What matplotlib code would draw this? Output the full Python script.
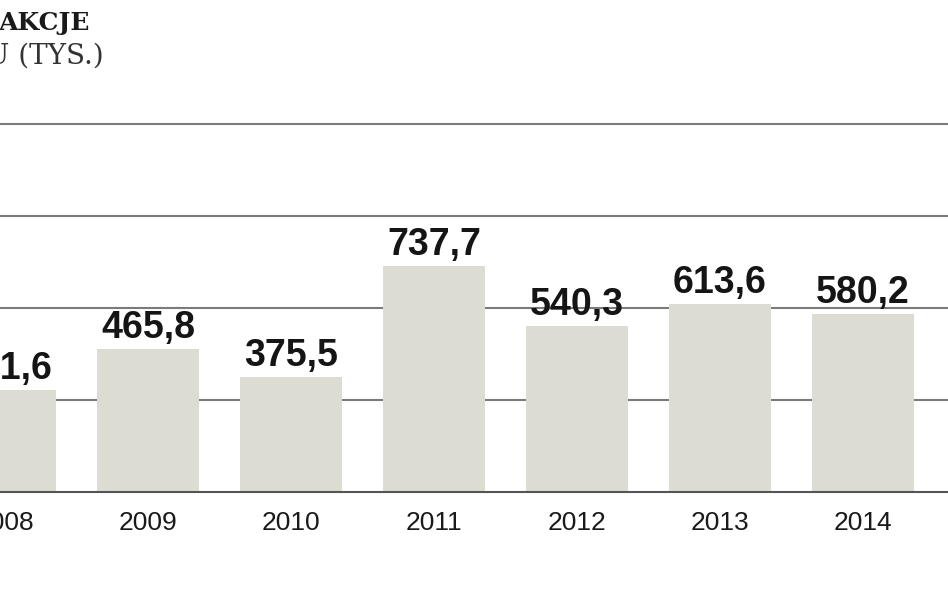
import matplotlib.pyplot as plt
import numpy as np

# number of transactions per year (thousands)
years = ['2008', '2009', '2010', '2011', '2012', '2013', '2014']
values = [331.6, 465.8, 375.5, 737.7, 540.3, 613.6, 580.2]
labels = ['331,6', '465,8', '375,5', '737,7', '540,3', '613,6', '580,2']
grid_ticks = [0, 300, 600, 900, 1200]

W, H = 948, 593
fig = plt.figure(figsize=(W / 100, H / 100), dpi=100)

# axes placed in pixels: baseline at y=492, top gridline at y=124 (from top)
ax_bot, ax_top = H - 502, H - 113
ax = fig.add_axes([0, ax_bot / H, 1, (ax_top - ax_bot) / H])
upp = 1200 / (492 - 124)  # units per pixel
ax.set_ylim(-10 * upp, 1200 + 11 * upp)
# first bar centred at x=5px, spacing 143px
ax.set_xlim(-5 / 143, (W - 5) / 143)

x = np.arange(len(years))
ax.bar(x, values, width=102 / 143, color='#dcdcd2', zorder=2)

for t in grid_ticks[1:]:
    ax.axhline(t, color='#7b7b7b', lw=1.5, zorder=1)
ax.axhline(0, color='#555555', lw=1.5, zorder=3)

for xi, v, lab in zip(x, values, labels):
    ax.annotate(lab, (xi, v), xytext=(0, 8), textcoords='offset points',
                ha='center', va='baseline', fontsize=27, fontweight='bold',
                family='Liberation Sans', color='#151515')
    ax.annotate(years[xi], (xi, 0), xytext=(0, -27), textcoords='offset points',
                ha='center', va='baseline', fontsize=19,
                family='Liberation Sans', color='#1a1a1a')

for s in ax.spines.values():
    s.set_visible(False)
ax.set_xticks([])
ax.set_yticks([])

# title (cropped at left edge in the reference)
fig.text(89 / W, 1 - 30 / H, 'AKCJE', ha='right', va='baseline',
         fontsize=18, fontweight='bold', family='DejaVu Serif', color='#1a1a1a')
fig.text(104 / W, 1 - 64 / H, 'U (TYS.)', ha='right', va='baseline',
         fontsize=20, family='DejaVu Serif', color='#333333')

fig.savefig('out.png', dpi=100)
